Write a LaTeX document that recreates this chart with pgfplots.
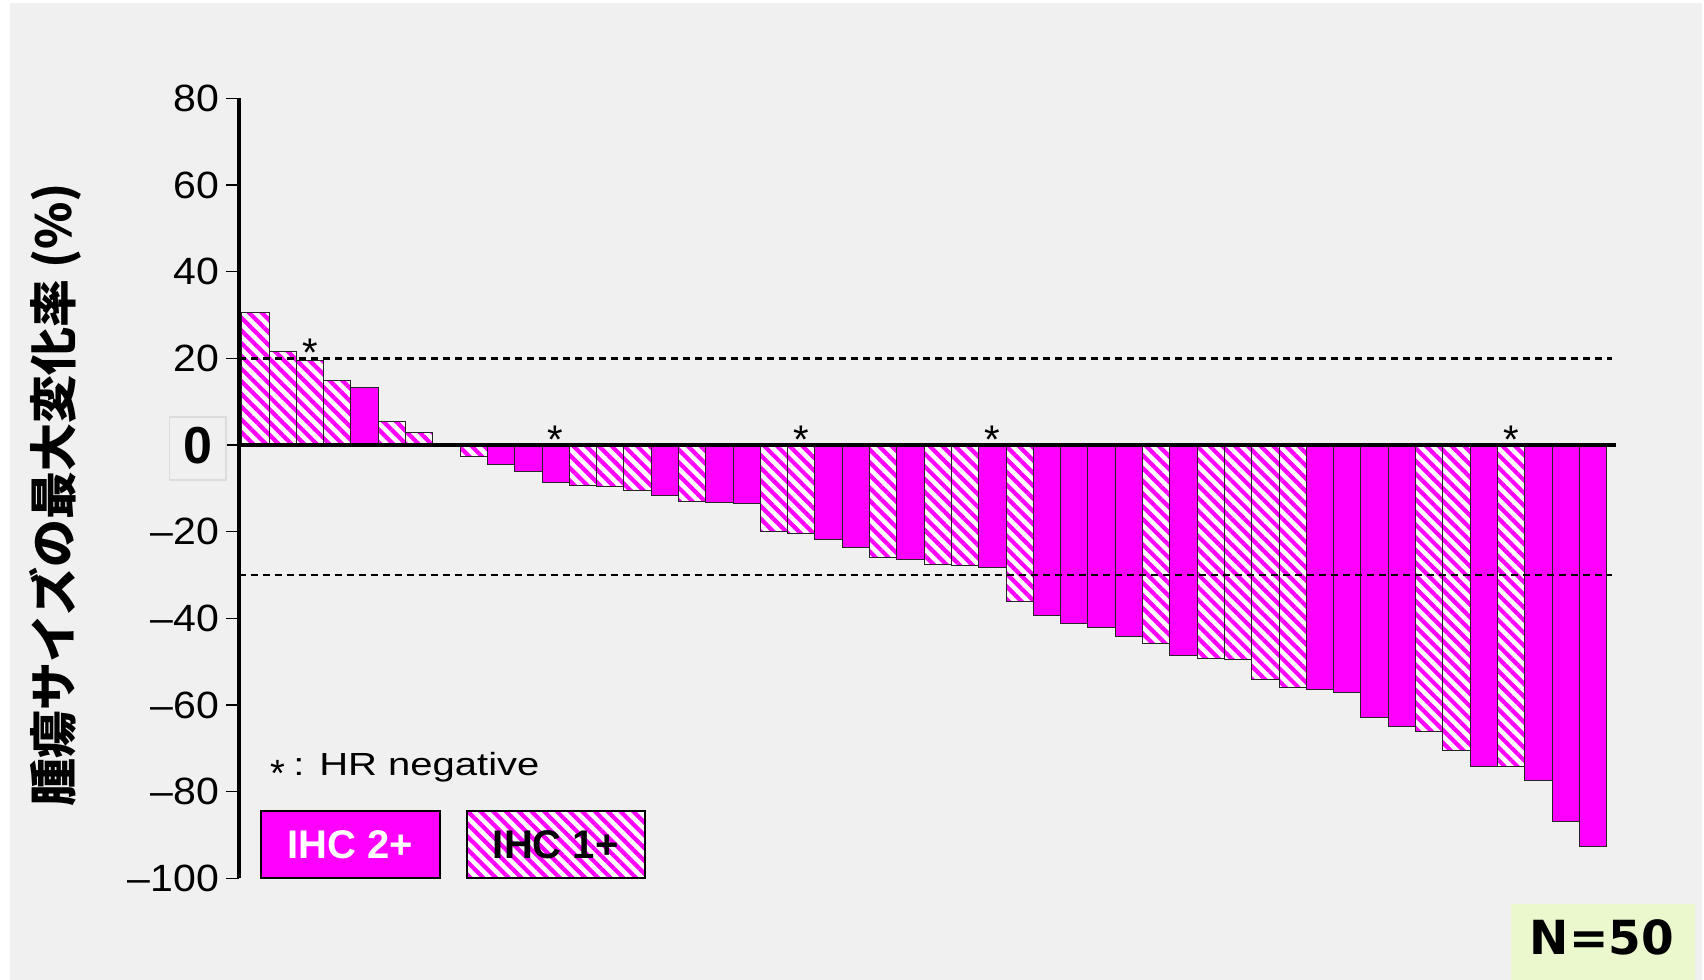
\documentclass[border=0pt]{standalone}
\usepackage{pgfplots}
\pgfplotsset{compat=1.18}
\usetikzlibrary{patterns.meta}
\usepackage{fontspec}
\setmainfont{Liberation Sans}
\newfontfamily\cjk{Noto Sans CJK JP}
\newfontfamily\dejavu{DejaVu Sans}
\definecolor{bg}{HTML}{F0F0F0}
\definecolor{mag}{HTML}{FF00FF}
\definecolor{ngreen}{HTML}{EBF8CE}
\definecolor{boxgray}{HTML}{DCDCDC}
\newcommand\tl[1]{\scalebox{1.08}[1]{#1}}
\tikzset{hatch/.style={postaction={pattern={Lines[angle=-45,distance=4.5pt,line width=2.1pt]},pattern color=mag}}}
\begin{document}
\begin{tikzpicture}
\useasboundingbox (0,0) rectangle (852pt,-490pt);
\begin{scope}[x=0.5pt,y=-0.5pt]
\fill[white] (0,0) rectangle (1704,980);
\fill[bg] (10,3) rectangle (1702,980);
\fill[ngreen] (1511,904) rectangle (1695,980);
\node[font=\dejavu\bfseries\fontsize{23.5pt}{24pt}\selectfont] at (1602,937) {N=50};
\end{scope}
\begin{axis}[
 at={(119.5pt,-439.15pt)}, anchor=south west,
 scale only axis, width=688.3pt, height=390pt,
 xmin=0.4, xmax=50.83, ymin=-100, ymax=80,
 axis x line=none, axis y line=left,
 axis line style={-, line width=1.75pt, black},
 ytick={-100,-80,-60,-40,-20,0,20,40,60,80},
 yticklabels={\tl{–100},\tl{–80},\tl{–60},\tl{–40},\tl{–20},{},\tl{20},\tl{40},\tl{60},\tl{80}},
 tick align=outside, major tick length=6.5pt,
 tick style={line width=0.75pt, black},
 yticklabel style={font=\fontsize{19pt}{20pt}\selectfont},
 clip=false,
]
% IHC 2+ (solid)
\addplot[ybar, bar width=1, bar shift=0pt, fill=mag, draw=black!85, line width=0.5pt] coordinates {
(5,13.2) (10,-4.6) (11,-6.2) (12,-8.6) (16,-11.6) (18,-13.3) (19,-13.5)
(22,-21.7) (23,-23.7) (25,-26.5) (28,-28.2) (30,-39.3) (31,-41.3) (32,-42.1)
(33,-44.3) (35,-48.5) (40,-56.5) (41,-57.2) (42,-62.9) (43,-64.9) (46,-74.1)
(48,-77.5) (49,-87.0) (50,-92.6)};
% IHC 1+ (hatched)
\addplot[ybar, bar width=1, bar shift=0pt, fill=white, draw=black!85, line width=0.5pt, hatch] coordinates {
(1,30.5) (2,21.6) (3,19.5) (4,14.9) (6,5.5) (7,2.8) (9,-2.6) (13,-9.4) (14,-9.6)
(15,-10.6) (17,-13.1) (20,-19.9) (21,-20.4) (24,-25.9) (26,-27.6) (27,-27.8)
(29,-36.1) (34,-45.8) (36,-49.2) (37,-49.5) (38,-54.2) (39,-55.9) (44,-66.1)
(45,-70.6) (47,-74.1)};
% reference lines
\addplot[black, mark=none, line width=1.3pt, dash pattern=on 3.5pt off 2.5pt, forget plot] coordinates {(0.4,20) (50.7,20)};
\addplot[black, mark=none, line width=1.3pt, dash pattern=on 3.5pt off 2.5pt, forget plot] coordinates {(0.4,-30) (50.7,-30)};
\addplot[black, mark=none, line width=2pt, forget plot] coordinates {(0.4,0) (50.83,0)};
% HR negative markers
\addplot[draw=none, mark=none, forget plot, nodes near coords={*},
 nodes near coords style={anchor=base, inner sep=0pt, font=\fontsize{20pt}{20pt}\selectfont}] coordinates {
(3,18.2) (12,-2.0) (21,-2.0) (28,-2.0) (47,-2.0)};
\end{axis}
\begin{scope}[x=0.5pt,y=-0.5pt]
\draw[boxgray, line width=0.8pt, fill=bg] (169.3,416.7) rectangle (226,480);
\node[font=\bfseries\fontsize{26pt}{26pt}\selectfont, inner sep=0pt] at (197.5,446) {0};
\node[rotate=90, font=\cjk\bfseries\fontsize{24pt}{24pt}\selectfont] at (55,494.5) {腫瘍サイズの最大変化率 (\%)};
\node[anchor=base, inner sep=0pt, font=\fontsize{19pt}{19pt}\selectfont] at (277.5,786) {*};
\node[anchor=base west, inner sep=0pt, font=\fontsize{16pt}{16pt}\selectfont] at (293,775.7) {\scalebox{1.25}[1]{: HR negative}};
\draw[black, line width=1pt, fill=mag] (261,811) rectangle (440,878);
\node[white, font=\bfseries\fontsize{20pt}{20pt}\selectfont] at (350.5,844.5) {IHC 2+};
\fill[white] (466.5,811) rectangle (645,878);
\fill[pattern={Lines[angle=-45,distance=4.5pt,line width=2.1pt]}, pattern color=mag] (466.5,811) rectangle (645,878);
\draw[black, line width=1pt] (466.5,811) rectangle (645,878);
\node[black, font=\bfseries\fontsize{20pt}{20pt}\selectfont] at (555.75,844.5) {IHC 1+};
\end{scope}
\end{tikzpicture}
\end{document}
